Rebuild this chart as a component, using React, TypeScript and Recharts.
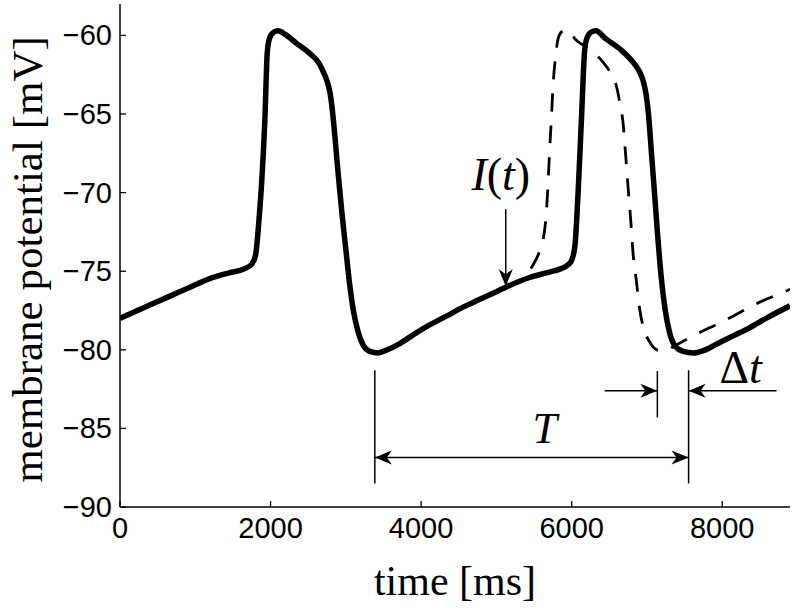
import { LineChart, Line, XAxis, YAxis, ReferenceLine, ReferenceDot } from "recharts";

// solid trace: unperturbed membrane potential
const solidTime = [
  0, 300, 620, 900, 1200, 1450, 1650, 1750, 1800, 1820, 1850, 1880, 1925, 1956, 1985, 2040, 2100,
  2200, 2345, 2522, 2640, 2699, 2750, 2788, 2820, 2854, 2900, 2950, 3000, 3050, 3100, 3160, 3230,
  3320, 3430, 3550, 3717, 3894, 4100, 4336, 4550, 4779, 5000, 5111, 5300, 5443, 5664, 5850, 5950,
  6000, 6025, 6045, 6068, 6090, 6130, 6170, 6200, 6255, 6320, 6450, 6637, 6814, 6900, 6950, 6990,
  7020, 7060, 7100, 7140, 7190, 7240, 7300, 7380, 7480, 7620, 7750, 7921, 8150, 8363, 8600, 8900,
];
const solidPotential = [
  -78.0, -77.35, -76.68, -76.08, -75.45, -75.1, -74.85, -74.55, -74.0, -73.2, -71.5, -69.5, -65.3, -61.1, -60.2, -59.8, -59.7,
  -59.95, -60.5, -61.15, -61.75, -62.3, -62.9, -63.6, -64.7, -66.4, -68.9, -71.4, -73.6, -75.8, -77.5, -78.8, -79.7,
  -80.1, -80.2, -80.0, -79.6, -79.05, -78.45, -77.86, -77.3, -76.79, -76.3, -76.05, -75.65, -75.4, -75.1, -74.85, -74.6,
  -74.3, -73.9, -73.3, -71.6, -69.5, -65.3, -61.1, -60.2, -59.8, -59.7, -60.2, -60.85, -61.7, -62.3, -62.9, -63.8,
  -65.0, -67.5, -70.0, -72.6, -75.4, -77.4, -78.9, -79.8, -80.1, -80.2, -80.05, -79.65, -79.1, -78.6, -77.95, -77.2,
];

// dashed trace: response after the current pulse I(t)
const dashedTime = [
  5124, 5250, 5380, 5487, 5560, 5620, 5650, 5680, 5705, 5730, 5755, 5780, 5820, 5870, 5930, 5990,
  6040, 6150, 6283, 6416, 6530, 6593, 6640, 6681, 6715, 6748, 6785, 6814, 6859, 6903, 6960, 7036,
  7100, 7170, 7257, 7350, 7500, 7700, 7920, 8142, 8400, 8600, 8806, 8900,
];
const dashedPotential = [
  -76.0, -75.75, -75.3, -74.6, -73.9, -73.0, -72.0, -70.0, -67.5, -65.3, -63.0, -61.6, -60.2, -59.75, -59.65, -59.85,
  -60.2, -60.6, -61.05, -61.7, -62.5, -63.2, -64.3, -65.5, -67.5, -69.6, -71.8, -73.8, -75.6, -77.4, -78.7, -79.5,
  -79.9, -80.05, -80.05, -79.8, -79.4, -78.9, -78.4, -77.86, -77.2, -76.75, -76.35, -76.15,
];

const xTicks = [0, 2000, 4000, 6000, 8000];
const yTicks = [-90, -85, -80, -75, -70, -65, -60];

// annotation geometry in data units (ms, mV)
const arrows = [
  { x1: 5124, y1: -71.05, x2: 5124, y2: -75.95, both: false },
  { x1: 3385, y1: -86.85, x2: 7553, y2: -86.85, both: true },
  { x1: 6438, y1: -82.6, x2: 7138, y2: -82.6, both: false },
  { x1: 8722, y1: -82.6, x2: 7553, y2: -82.6, both: false },
];
const markerLines = [
  { t: 3385, top: -81.3, bottom: -88.5 },
  { t: 7553, top: -81.3, bottom: -88.5 },
  { t: 7138, top: -81.35, bottom: -84.3 },
];
const annotationLabels = [
  { t: 5058, v: -69.83, key: "I" },
  { t: 5642, v: -85.92, key: "T" },
  { t: 8244, v: -82.09, key: "dt" },
];

const solidData = solidTime.map((t, i) => ({ t, v: solidPotential[i] }));
const dashedData = dashedTime.map((t, i) => ({ t, v: dashedPotential[i] }));

const SERIF = "'Liberation Serif', 'DejaVu Serif', serif";
const SANS = "'Liberation Sans', Arial, sans-serif";
const TICK_LEN = 6;

const fmt = (v: number) => (v < 0 ? "\u2212" + Math.abs(v) : String(v));

const BottomTick = (props: any) => {
  const { x, y, payload } = props;
  const axisY = y - 10;
  return (
    <g>
      <line x1={x} y1={axisY} x2={x} y2={axisY - TICK_LEN} stroke="#000" strokeWidth={1.3} />
      <text x={x} y={y} dy={21} textAnchor="middle" fontFamily={SANS} fontSize={29} fill="#000">
        {fmt(payload.value)}
      </text>
    </g>
  );
};

const LeftTick = (props: any) => {
  const { x, y, payload } = props;
  const axisX = x + 8;
  return (
    <g>
      <line x1={axisX} y1={y} x2={axisX + TICK_LEN} y2={y} stroke="#000" strokeWidth={1.3} />
      <text x={x} y={y} dy={10} textAnchor="end" fontFamily={SANS} fontSize={29} fill="#000">
        {fmt(payload.value)}
      </text>
    </g>
  );
};

const TopTick = (props: any) => {
  const { x, y } = props;
  return <line x1={x} y1={y} x2={x} y2={y + TICK_LEN} stroke="#000" strokeWidth={1.3} />;
};

const RightTick = (props: any) => {
  const { x, y } = props;
  return <line x1={x} y1={y} x2={x - TICK_LEN} y2={y} stroke="#000" strokeWidth={1.3} />;
};

const XLabel = (props: any) => {
  const vb = props.viewBox ?? { x: 120, y: 507, width: 670, height: 101 };
  return (
    <text x={vb.x + vb.width / 2} y={vb.y + 88} textAnchor="middle" fontFamily={SERIF} fontSize={42} fill="#000">
      time [ms]
    </text>
  );
};

const YLabel = (props: any) => {
  const vb = props.viewBox ?? { x: 0, y: 4, width: 120, height: 503 };
  const cx = vb.x + 42;
  const cy = vb.y + vb.height / 2 + 4;
  return (
    <text x={cx} y={cy} transform={`rotate(-90, ${cx}, ${cy})`} textAnchor="middle" fontFamily={SERIF} fontSize={43} fill="#000">
      membrane potential [mV]
    </text>
  );
};

const HEAD_LEN = 17;
const HEAD_HALF = 7;
const HEAD_NOTCH = 5;

function headPoints(tx: number, ty: number, ux: number, uy: number) {
  const nx = -uy;
  const ny = ux;
  const bx = tx - ux * HEAD_LEN;
  const by = ty - uy * HEAD_LEN;
  const mx = tx - ux * (HEAD_LEN - HEAD_NOTCH);
  const my = ty - uy * (HEAD_LEN - HEAD_NOTCH);
  return `${tx},${ty} ${bx + nx * HEAD_HALF},${by + ny * HEAD_HALF} ${mx},${my} ${bx - nx * HEAD_HALF},${by - ny * HEAD_HALF}`;
}

const makeArrow = (both: boolean) => (p: any) => {
  const { x1, y1, x2, y2 } = p;
  const len = Math.hypot(x2 - x1, y2 - y1) || 1;
  const ux = (x2 - x1) / len;
  const uy = (y2 - y1) / len;
  return (
    <g>
      <line x1={x1} y1={y1} x2={x2} y2={y2} stroke="#000" strokeWidth={1.5} />
      <polygon points={headPoints(x2, y2, ux, uy)} fill="#000" />
      {both && <polygon points={headPoints(x1, y1, -ux, -uy)} fill="#000" />}
    </g>
  );
};

const renderLabel = (key: string) => (p: any) => {
  const { cx, cy } = p;
  const common = { x: cx, y: cy, textAnchor: "middle" as const, fontFamily: SERIF, fill: "#000" };
  if (key === "I") {
    return (
      <text {...common} fontSize={46}>
        <tspan fontStyle="italic">I</tspan>(<tspan fontStyle="italic">t</tspan>)
      </text>
    );
  }
  if (key === "T") {
    return (
      <text {...common} fontSize={44} fontStyle="italic">
        T
      </text>
    );
  }
  return (
    <text {...common} fontSize={46}>
      Δ<tspan fontStyle="italic">t</tspan>
    </text>
  );
};

const axisLine = { stroke: "#000", strokeWidth: 1.5 };

export default function App() {
  return (
    <div style={{ position: "absolute", left: 0, top: 0, width: 792, height: 608, background: "#fff" }}>
      <LineChart width={792} height={608} margin={{ top: 4, right: 2, bottom: 0, left: 0 }}>
        <XAxis
          dataKey="t"
          type="number"
          domain={[0, 8900]}
          ticks={xTicks}
          interval={0}
          allowDataOverflow
          height={101}
          tickSize={0}
          tickMargin={10}
          tickLine={false}
          axisLine={axisLine}
          tick={BottomTick}
          label={{ content: XLabel }}
        />
        <XAxis
          xAxisId="top"
          orientation="top"
          dataKey="t"
          type="number"
          domain={[0, 8900]}
          ticks={xTicks}
          interval={0}
          allowDataOverflow
          height={0}
          tickSize={0}
          tickMargin={0}
          tickLine={false}
          axisLine={axisLine}
          tick={TopTick}
        />
        <YAxis
          type="number"
          domain={[-90, -58]}
          ticks={yTicks}
          interval={0}
          allowDataOverflow
          width={120}
          tickSize={0}
          tickMargin={8}
          tickLine={false}
          axisLine={axisLine}
          tick={LeftTick}
          label={{ content: YLabel }}
        />
        <YAxis
          yAxisId="right"
          orientation="right"
          type="number"
          domain={[-90, -58]}
          ticks={yTicks}
          interval={0}
          allowDataOverflow
          width={0}
          tickSize={0}
          tickMargin={0}
          tickLine={false}
          axisLine={axisLine}
          tick={RightTick}
        />
        <Line
          data={dashedData}
          dataKey="v"
          type="monotone"
          stroke="#000"
          strokeWidth={2.8}
          strokeDasharray="18 14"
          dot={false}
          activeDot={false}
          isAnimationActive={false}
        />
        <Line
          data={solidData}
          dataKey="v"
          type="monotone"
          stroke="#000"
          strokeWidth={5.5}
          strokeLinejoin="round"
          dot={false}
          activeDot={false}
          isAnimationActive={false}
        />
        {markerLines.map((m, i) => (
          <ReferenceLine
            key={`m${i}`}
            segment={[{ x: m.t, y: m.top }, { x: m.t, y: m.bottom }]}
            stroke="#000"
            strokeWidth={1.5}
          />
        ))}
        {arrows.map((a, i) => (
          <ReferenceLine
            key={`a${i}`}
            segment={[{ x: a.x1, y: a.y1 }, { x: a.x2, y: a.y2 }]}
            stroke="#000"
            shape={makeArrow(a.both)}
          />
        ))}
        {annotationLabels.map((l) => (
          <ReferenceDot key={l.key} x={l.t} y={l.v} r={1} shape={renderLabel(l.key)} />
        ))}
      </LineChart>
    </div>
  );
}
